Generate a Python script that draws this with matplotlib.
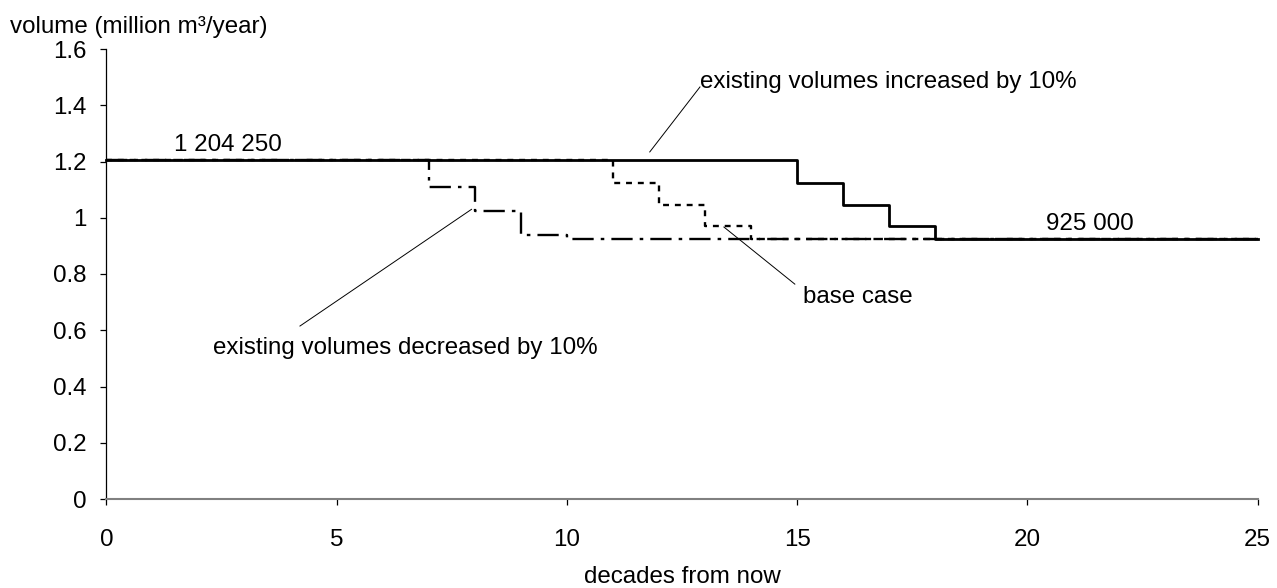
import matplotlib
matplotlib.use("Agg")
import matplotlib.pyplot as plt

plt.rcParams['font.family'] = ['Liberation Sans', 'DejaVu Sans']

# data (decades, million m3/year)
x_increased = [0, 15, 16, 17, 18, 25]
y_increased = [1.20425, 1.124, 1.047, 0.970, 0.925, 0.925]
x_base = [0, 11, 12, 13, 14, 25]
y_base = [1.20425, 1.124, 1.047, 0.970, 0.925, 0.925]
x_decreased = [0, 7, 8, 9, 10, 25]
y_decreased = [1.20425, 1.109, 1.023, 0.938, 0.925, 0.925]

x_ticks = [0, 5, 10, 15, 20, 25]
y_ticks = [0, 0.2, 0.4, 0.6, 0.8, 1.0, 1.2, 1.4, 1.6]
y_tick_labels = ["0", "0.2", "0.4", "0.6", "0.8", "1", "1.2", "1.4", "1.6"]

FS = 17.4
W, H = 1277, 588
fig = plt.figure(figsize=(W / 100, H / 100), dpi=100)
ax = fig.add_axes([106.3 / W, 1 - 499 / H, (1257.7 - 106.3) / W, (499 - 49) / H])

ax.step(x_decreased, y_decreased, where='post', color='black', lw=1.7,
        linestyle=(0, (9, 3, 1.5, 3)), clip_on=False)
ax.step(x_base, y_base, where='post', color='black', lw=1.7,
        linestyle=(0, (2.5, 2.5)), clip_on=False)
ax.step(x_increased, y_increased, where='post', color='black', lw=2.0,
        clip_on=False)

ax.set_xlim(0, 25)
ax.set_ylim(0, 1.6)
ax.set_xticks(x_ticks)
ax.set_xticklabels([str(t) for t in x_ticks])
ax.set_yticks(y_ticks)
ax.set_yticklabels(y_tick_labels)

for s in ['top', 'right']:
    ax.spines[s].set_visible(False)
ax.spines['bottom'].set_color('#808080')
ax.spines['bottom'].set_linewidth(1.5)
ax.spines['left'].set_color('black')
ax.spines['left'].set_linewidth(0.9)
ax.tick_params(axis='x', direction='out', length=4.3, width=0.9, color='black',
               pad=17, labelsize=FS)
ax.tick_params(axis='y', direction='out', length=4.3, width=0.9, color='black',
               pad=10, labelsize=FS)

# annotations
ax.text(2.65, 1.259, "1 204 250", ha='center', va='center', fontsize=FS)
ax.text(21.36, 0.978, "925 000", ha='center', va='center', fontsize=FS)
ax.text(12.89, 1.483, "existing volumes increased by 10%", ha='left', va='center', fontsize=FS)
ax.plot([11.80, 12.89], [1.234, 1.465], color='black', lw=0.7)
ax.text(15.13, 0.718, "base case", ha='left', va='center', fontsize=FS)
ax.plot([13.41, 14.95], [0.967, 0.764], color='black', lw=0.7)
ax.text(2.32, 0.537, "existing volumes decreased by 10%", ha='left', va='center', fontsize=FS)
ax.plot([7.93, 4.205], [1.030, 0.615], color='black', lw=0.7)

fig.text(10 / W, 1 - 27 / H, "volume (million m³/year)", ha='left', va='center', fontsize=FS)
fig.text(682 / W, 1 - 577 / H, "decades from now", ha='center', va='center', fontsize=FS)

fig.savefig("out.png", dpi=100)
